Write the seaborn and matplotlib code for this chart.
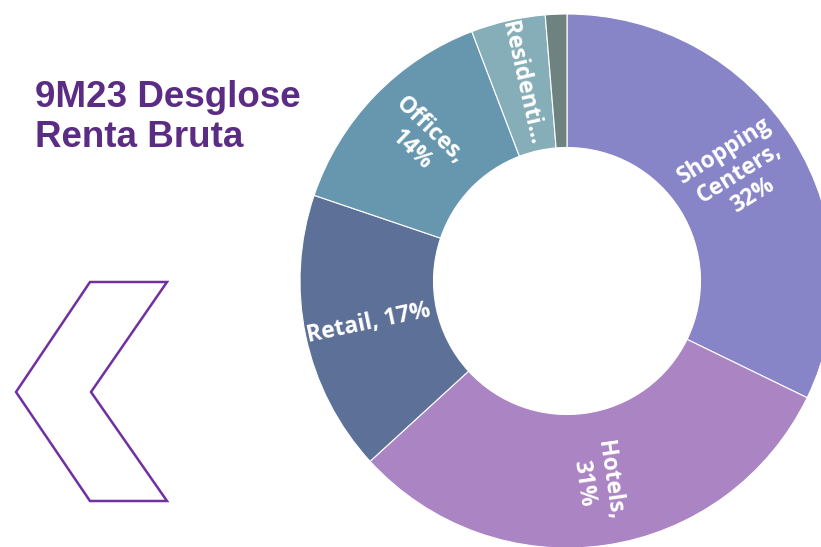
import numpy as np
import seaborn as sns
import matplotlib.pyplot as plt
from matplotlib.patches import Polygon

sns.set_theme(style="white")

# data (clockwise from 12 o'clock)
segments = ['Shopping Centers', 'Hotels', 'Retail', 'Offices', 'Residential', 'Other']
shares = [32.2, 31.0, 17.0, 14.0, 4.5, 1.3]
labels = ['Shopping\nCenters,\n32%', 'Hotels,\n31%', 'Retail, 17%', 'Offices,\n14%', 'Residenti...', '']
colors = ['#8784C7', '#AB84C4', '#5D7098', '#6797AF', '#86AEB8', '#6E827F']

W, H = 821, 547
cx, cy, R = 567, 281, 267  # donut centre / radius in pixels

fig = plt.figure(figsize=(W / 100, H / 100), dpi=100)
ax = fig.add_axes([0, 0, 1, 1])

wedges, _ = ax.pie(shares, colors=colors, startangle=90, counterclock=False,
                   radius=1, wedgeprops=dict(width=0.5, edgecolor='white', linewidth=0.8))

# pie() resets the limits, so place the donut afterwards
ax.set_xlim(-cx / R, (W - cx) / R)
ax.set_ylim(-(H - cy) / R, cy / R)
ax.set_aspect('equal')
ax.axis('off')

# labels rotated along the radius, like the original slide
total = sum(shares)
start = 90.0
for val, lab in zip(shares, labels):
    sweep = val / total * 360
    mid = start - sweep / 2
    start -= sweep
    if not lab:
        continue
    rot = mid
    if rot < -90 or rot > 90:
        rot = (rot + 180) % 360
        if rot > 180:
            rot -= 360
    r = 0.76
    ax.text(r * np.cos(np.radians(mid)), r * np.sin(np.radians(mid)), lab,
            rotation=rot, rotation_mode='anchor', ha='center', va='center',
            color='white', fontsize=16.5, fontweight='bold', family='Open Sans',
            linespacing=1.15, multialignment='center')

# title
fig.text(35 / W, 1 - 80 / H, '9M23 Desglose\nRenta Bruta', ha='left', va='top',
         color='#5B2C83', fontsize=26.5, fontweight='bold', family='Liberation Sans',
         linespacing=1.2)

# chevron decoration
pts = [(90, 282), (167, 282), (91, 392), (167, 501), (90, 501), (16, 392)]
chev = Polygon([(x / W, 1 - y / H) for x, y in pts], closed=True, fill=False,
               edgecolor='#7030A0', linewidth=1.8, transform=fig.transFigure)
fig.patches.append(chev)

fig.savefig('out.png', dpi=100)
